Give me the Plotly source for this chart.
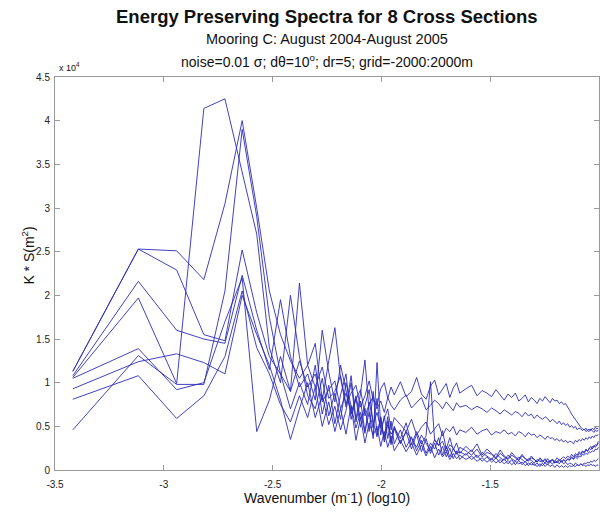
import numpy as np
import plotly.graph_objects as go

# log10 of the fundamental wavenumber (m^-1); mode n sits at LOG_K0 + log10(n)
LOG_K0 = -3.418
modes = list(range(1, 31)) + list(range(32, 61, 2)) + list(range(64, 261, 4))

# Energy-preserving spectra K*S, in units of 1e4 m^2, one list per cross section
section_1 = [
    1.13, 2.53, 2.51, 2.18, 3.05, 4.00, 3.00, 2.05, 1.55, 1.25, 1.05, 1.20,
    0.95, 1.18, 0.82, 0.90, 1.08, 0.76, 0.88, 0.97, 0.72, 0.85, 1.02, 0.80, 0.74, 0.93, 1.00, 0.82, 0.95, 0.86,
    1.01, 0.84, 0.90, 1.06, 0.87, 0.81, 0.96, 1.03, 0.86, 0.92, 0.99, 0.83, 0.94, 1.00, 0.88,
    0.93, 0.97, 0.85, 0.91, 0.88, 0.84, 0.92, 0.86, 0.80, 0.87,
    0.83, 0.88, 0.79, 0.82, 0.86, 0.78, 0.83, 0.80, 0.76, 0.82,
    0.79, 0.84, 0.81, 0.77, 0.82, 0.79, 0.80, 0.76, 0.78, 0.75,
    0.76, 0.71, 0.68, 0.64, 0.61, 0.57, 0.55, 0.51, 0.49, 0.47,
    0.46, 0.48, 0.45, 0.44, 0.47, 0.45, 0.43, 0.46, 0.44, 0.46,
]
section_2 = [
    1.13, 2.53, 2.29, 1.55, 1.48, 2.52, 1.80, 1.30, 1.10, 0.90, 1.25, 0.95,
    1.10, 0.78, 0.92, 1.02, 0.70, 0.88, 0.66, 0.81, 0.92, 0.62, 0.75, 0.84, 0.70, 0.79, 0.66, 0.83, 0.74, 0.69,
    0.80, 0.86, 0.71, 0.77, 0.83, 0.69, 0.74, 0.80, 0.76, 0.70, 0.78, 0.73, 0.68, 0.77, 0.72,
    0.74, 0.69, 0.73, 0.70, 0.66, 0.71, 0.68, 0.64, 0.69, 0.66,
    0.63, 0.67, 0.65, 0.61, 0.66, 0.62, 0.64, 0.59, 0.63, 0.60,
    0.58, 0.61, 0.59, 0.55, 0.58, 0.56, 0.53, 0.56, 0.52, 0.54,
    0.51, 0.53, 0.49, 0.51, 0.48, 0.50, 0.46, 0.48, 0.47, 0.45,
    0.47, 0.44, 0.46, 0.47, 0.45, 0.48, 0.46, 0.49, 0.47, 0.48,
]
section_3 = [
    1.08, 2.16, 1.60, 1.50, 1.45, 2.23, 1.60, 1.15, 1.95, 1.30, 0.95, 1.10,
    0.80, 1.60, 1.12, 0.78, 1.20, 0.92, 0.64, 0.85, 0.58, 0.74, 0.92, 0.52, 0.66, 0.48, 0.59, 0.70, 0.46, 0.60,
    0.52, 0.44, 0.58, 0.40, 0.49, 0.55, 0.41, 0.47, 0.53, 0.39, 0.48, 0.44, 0.50, 0.40, 0.46,
    0.43, 0.49, 0.41, 0.45, 0.47, 0.40, 0.44, 0.42, 0.46, 0.41,
    0.43, 0.39, 0.44, 0.42, 0.38, 0.43, 0.40, 0.41, 0.37, 0.40,
    0.38, 0.35, 0.39, 0.36, 0.37, 0.34, 0.36, 0.33, 0.35, 0.32,
    0.34, 0.31, 0.33, 0.32, 0.30, 0.34, 0.32, 0.35, 0.33, 0.36,
    0.34, 0.37, 0.35, 0.38, 0.36, 0.39, 0.37, 0.40, 0.39, 0.41,
]
section_4 = [
    1.06, 1.97, 0.99, 4.14, 4.25, 3.40, 2.70, 1.40, 1.00, 2.00, 1.30, 0.85,
    0.70, 1.05, 0.62, 0.88, 0.58, 1.00, 0.74, 0.48, 0.66, 0.42, 0.78, 0.55, 0.38, 0.60, 0.32, 0.52, 0.41, 0.47,
    0.30, 0.44, 0.36, 0.26, 0.40, 0.31, 0.22, 0.35, 0.28, 0.33, 0.21, 0.29, 0.25, 0.18, 0.26,
    0.22, 0.17, 0.24, 0.15, 0.20, 0.18, 0.13, 0.19, 0.15, 0.12,
    0.17, 0.14, 0.11, 0.16, 0.13, 0.10, 0.14, 0.12, 0.09, 0.12,
    0.10, 0.13, 0.09, 0.11, 0.12, 0.10, 0.14, 0.11, 0.13, 0.15,
    0.13, 0.16, 0.14, 0.18, 0.15, 0.19, 0.17, 0.21, 0.19, 0.22,
    0.20, 0.24, 0.22, 0.25, 0.27, 0.24, 0.28, 0.26, 0.29, 0.31,
]
section_5 = [
    1.05, 1.39, 0.92, 1.00, 1.70, 2.20, 0.44, 0.80, 1.30, 0.90, 2.14, 1.20,
    1.45, 0.80, 1.25, 1.63, 1.05, 0.72, 1.08, 0.58, 0.88, 1.26, 0.66, 0.48, 0.82, 0.40, 0.62, 0.36, 0.56, 0.30,
    0.46, 0.26, 0.38, 0.22, 0.34, 0.19, 0.31, 0.24, 0.37, 0.17, 0.27, 0.15, 0.24, 0.19, 0.21,
    0.17, 0.23, 0.14, 0.20, 0.16, 0.12, 0.19, 0.14, 0.11, 0.17,
    0.13, 0.10, 0.15, 0.12, 0.09, 0.13, 0.11, 0.08, 0.12, 0.10,
    0.09, 0.12, 0.08, 0.10, 0.11, 0.08, 0.10, 0.12, 0.09, 0.11,
    0.10, 0.12, 0.11, 0.14, 0.12, 0.15, 0.13, 0.16, 0.15, 0.18,
    0.17, 0.19, 0.18, 0.21, 0.20, 0.22, 0.21, 0.24, 0.23, 0.26,
]
section_6 = [
    0.93, 1.24, 1.33, 1.23, 1.10, 2.00, 1.55, 1.20, 0.80, 0.35, 0.70, 1.00,
    0.60, 0.86, 0.52, 0.73, 0.46, 0.68, 1.00, 0.55, 0.79, 0.44, 0.66, 0.36, 1.23, 0.50, 0.38, 0.61, 0.31, 0.49,
    0.36, 0.54, 0.29, 0.44, 0.30, 0.39, 1.01, 0.34, 0.28, 0.45, 0.24, 0.37, 0.23, 0.31, 0.19,
    0.27, 0.21, 0.30, 0.17, 0.24, 0.19, 0.14, 0.23, 0.16, 0.13,
    0.20, 0.15, 0.12, 0.18, 0.13, 0.11, 0.16, 0.12, 0.09, 0.14,
    0.11, 0.08, 0.13, 0.09, 0.12, 0.08, 0.10, 0.07, 0.11, 0.07,
    0.09, 0.06, 0.08, 0.07, 0.05, 0.08, 0.06, 0.05, 0.07, 0.05,
    0.06, 0.04, 0.06, 0.05, 0.07, 0.05, 0.06, 0.04, 0.06, 0.05,
]
section_7 = [
    0.81, 1.08, 0.59, 0.85, 1.30, 2.05, 1.40, 1.10, 0.75, 0.55, 0.85, 0.60,
    0.95, 0.50, 0.78, 0.44, 0.70, 0.41, 0.74, 0.34, 0.60, 0.31, 0.54, 0.40, 0.50, 0.27, 0.44, 0.26, 0.39, 0.22,
    0.34, 0.21, 0.31, 0.17, 0.29, 0.16, 0.27, 0.14, 0.24, 0.15, 0.21, 0.12, 0.19, 0.13, 0.17,
    0.12, 0.16, 0.10, 0.14, 0.09, 0.13, 0.08, 0.12, 0.07, 0.11,
    0.06, 0.10, 0.07, 0.09, 0.05, 0.08, 0.06, 0.07, 0.04, 0.07,
    0.05, 0.08, 0.06, 0.09, 0.07, 0.10, 0.08, 0.11, 0.09, 0.12,
    0.10, 0.13, 0.12, 0.15, 0.13, 0.17, 0.15, 0.19, 0.17, 0.21,
    0.19, 0.23, 0.21, 0.25, 0.23, 0.27, 0.26, 0.29, 0.28, 0.33,
]
section_8 = [
    0.46, 1.31, 0.98, 0.98, 2.05, 3.90, 2.90, 1.75, 1.10, 0.70, 1.00, 0.75,
    1.20, 0.64, 0.97, 0.53, 0.86, 1.10, 0.58, 0.82, 0.49, 0.71, 0.44, 0.90, 0.40, 0.61, 0.34, 0.56, 0.29, 0.50,
    0.31, 0.44, 0.24, 0.41, 0.21, 0.36, 0.19, 0.31, 0.17, 0.27, 0.15, 0.25, 0.13, 0.22, 0.12,
    0.19, 0.12, 0.17, 0.10, 0.15, 0.09, 0.14, 0.08, 0.13, 0.07,
    0.12, 0.06, 0.11, 0.06, 0.10, 0.05, 0.09, 0.05, 0.08, 0.04,
    0.08, 0.04, 0.07, 0.04, 0.06, 0.03, 0.06, 0.03, 0.05, 0.03,
    0.05, 0.03, 0.05, 0.04, 0.05, 0.04, 0.06, 0.05, 0.07, 0.06,
    0.08, 0.07, 0.09, 0.08, 0.10, 0.09, 0.11, 0.10, 0.12, 0.13,
]

sections = [section_1, section_2, section_3, section_4,
            section_5, section_6, section_7, section_8]

x_ticks = [-3.5, -3, -2.5, -2, -1.5, -1]
y_ticks = [0, 0.5, 1, 1.5, 2, 2.5, 3, 3.5, 4, 4.5]

log_k = LOG_K0 + np.log10(np.array(modes, dtype=float))

fig = go.Figure()
for s in sections:
    assert len(s) == len(modes)
    fig.add_trace(go.Scatter(
        x=log_k, y=s, mode="lines",
        line=dict(color="rgb(45,45,185)", width=0.9),
        hoverinfo="skip", showlegend=False,
    ))

FONT = "Liberation Sans, Arial, Helvetica, sans-serif"
axis_common = dict(
    showline=True, linecolor="#9a9a9a", linewidth=1, mirror="ticks",
    ticks="inside", ticklen=5, tickcolor="#9a9a9a", tickwidth=1,
    showgrid=False, zeroline=False,
    tickfont=dict(family=FONT, size=10, color="#222"),
)

fig.update_xaxes(range=[-3.5, -1], tickvals=x_ticks, ticklabelstandoff=5,
                 ticktext=[f"{v:g}" for v in x_ticks], **axis_common)
fig.update_yaxes(range=[0, 4.5], tickvals=y_ticks, ticklabelstandoff=2,
                 ticktext=[f"{v:g}" for v in y_ticks], **axis_common)

fig.update_layout(
    width=600, height=519,
    margin=dict(l=55, r=1, t=77, b=49),
    paper_bgcolor="white", plot_bgcolor="white",
    font=dict(family=FONT, color="#222"),
    showlegend=False,
)

annotations = [
    dict(text="<b>Energy Preserving Spectra for 8 Cross Sections</b>",
         x=0.5, y=1.153, size=18.5),
    dict(text="Mooring C: August 2004-August 2005",
         x=0.5, y=1.097, size=14.5),
    dict(text="noise=0.01 σ; dθ=10<sup>o</sup>; dr=5; grid=-2000:2000m",
         x=0.5, y=1.041, size=14),
    dict(text="x 10<sup>4</sup>", x=0.003, y=1.025, xanchor="left", size=9),
    dict(text="Wavenumber (m<sup>-</sup>1) (log10)",
         x=0.5, y=-0.069, size=14),
    dict(text="K * S(m<sup>2</sup>)", x=-0.05, y=0.545, textangle=-90,
         size=14),
]
for a in annotations:
    size = a.pop("size")
    a.setdefault("xanchor", "center")
    fig.add_annotation(xref="paper", yref="paper", showarrow=False,
                       yanchor="middle",
                       font=dict(family=FONT, color="#111", size=size), **a)

fig.write_html("out.html")
